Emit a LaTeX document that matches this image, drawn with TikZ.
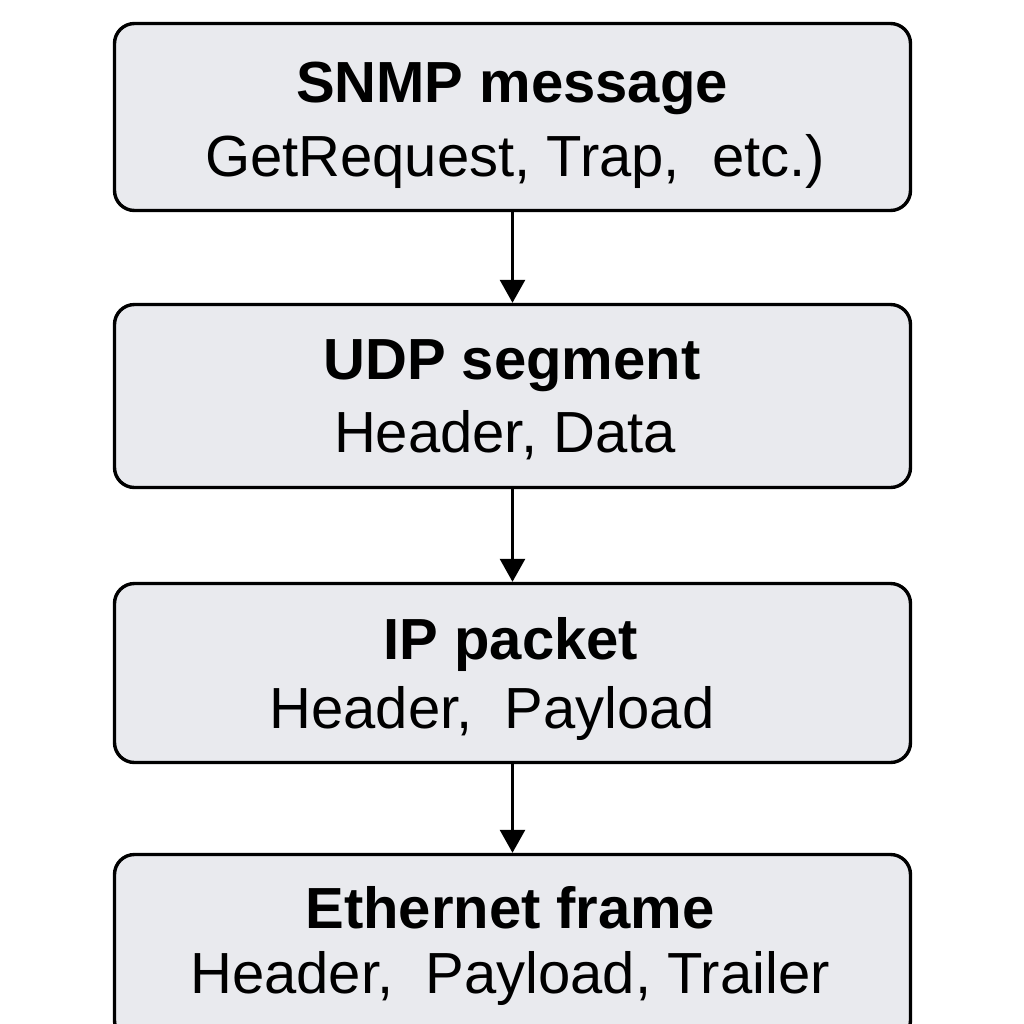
\documentclass[tikz,border=0pt]{standalone}
\usepackage{fontspec}
\setmainfont{Liberation Sans}
\usepackage{tikz}
\usetikzlibrary{arrows.meta, positioning}
\definecolor{boxgray}{HTML}{E9EAEE}

\begin{document}
\begin{tikzpicture}[x=0.5pt, y=-0.5pt]
% the layers, top to bottom
\useasboundingbox (0,0) rectangle (1024,1024);
\begin{scope}[every node/.style={shape=rectangle, rounded corners=10pt,
    draw, line width=1.7pt, fill=boxgray, minimum width=398pt, inner sep=0pt}]
    \node[minimum height=93.5pt] (a) at (512.5,117) {};
    \node[minimum height=91.5pt] (b) at (512.5,396) {};
    \node[minimum height=89.5pt] (c) at (512.5,673) {};
    \node[minimum height=93pt] (d) at (512.5,947.5) {};
\end{scope}

\begin{scope}[every node/.style={anchor=base, inner sep=0pt,
    font=\fontsize{29pt}{35pt}\selectfont},
    head/.style={font=\fontsize{29pt}{35pt}\selectfont\bfseries}]
    \node[head] (a1) at (512,102) {SNMP message};
    \node (a2) at (515,176) {GetRequest, Trap,\ \ etc.)};
    \node[head] (b1) at (512,379) {UDP segment};
    \node (b2) at (505,452) {Header, Data};
    \node[head] (c1) at (511,659) {IP packet};
    \node (c2) at (492,728) {Header,\ \ Payload};
    \node[head] (d1) at (510,928) {Ethernet frame};
    \node (d2) at (510,993) {Header,\ \ Payload, Trailer};
\end{scope}

\begin{scope}[every edge/.style={-{Triangle[length=11.5pt, width=12.5pt]}, draw, line width=1.4pt}]
    \path (a) edge (b);
    \path (b) edge (c);
    \path (c) edge (d);
\end{scope}
\end{tikzpicture}
\end{document}
